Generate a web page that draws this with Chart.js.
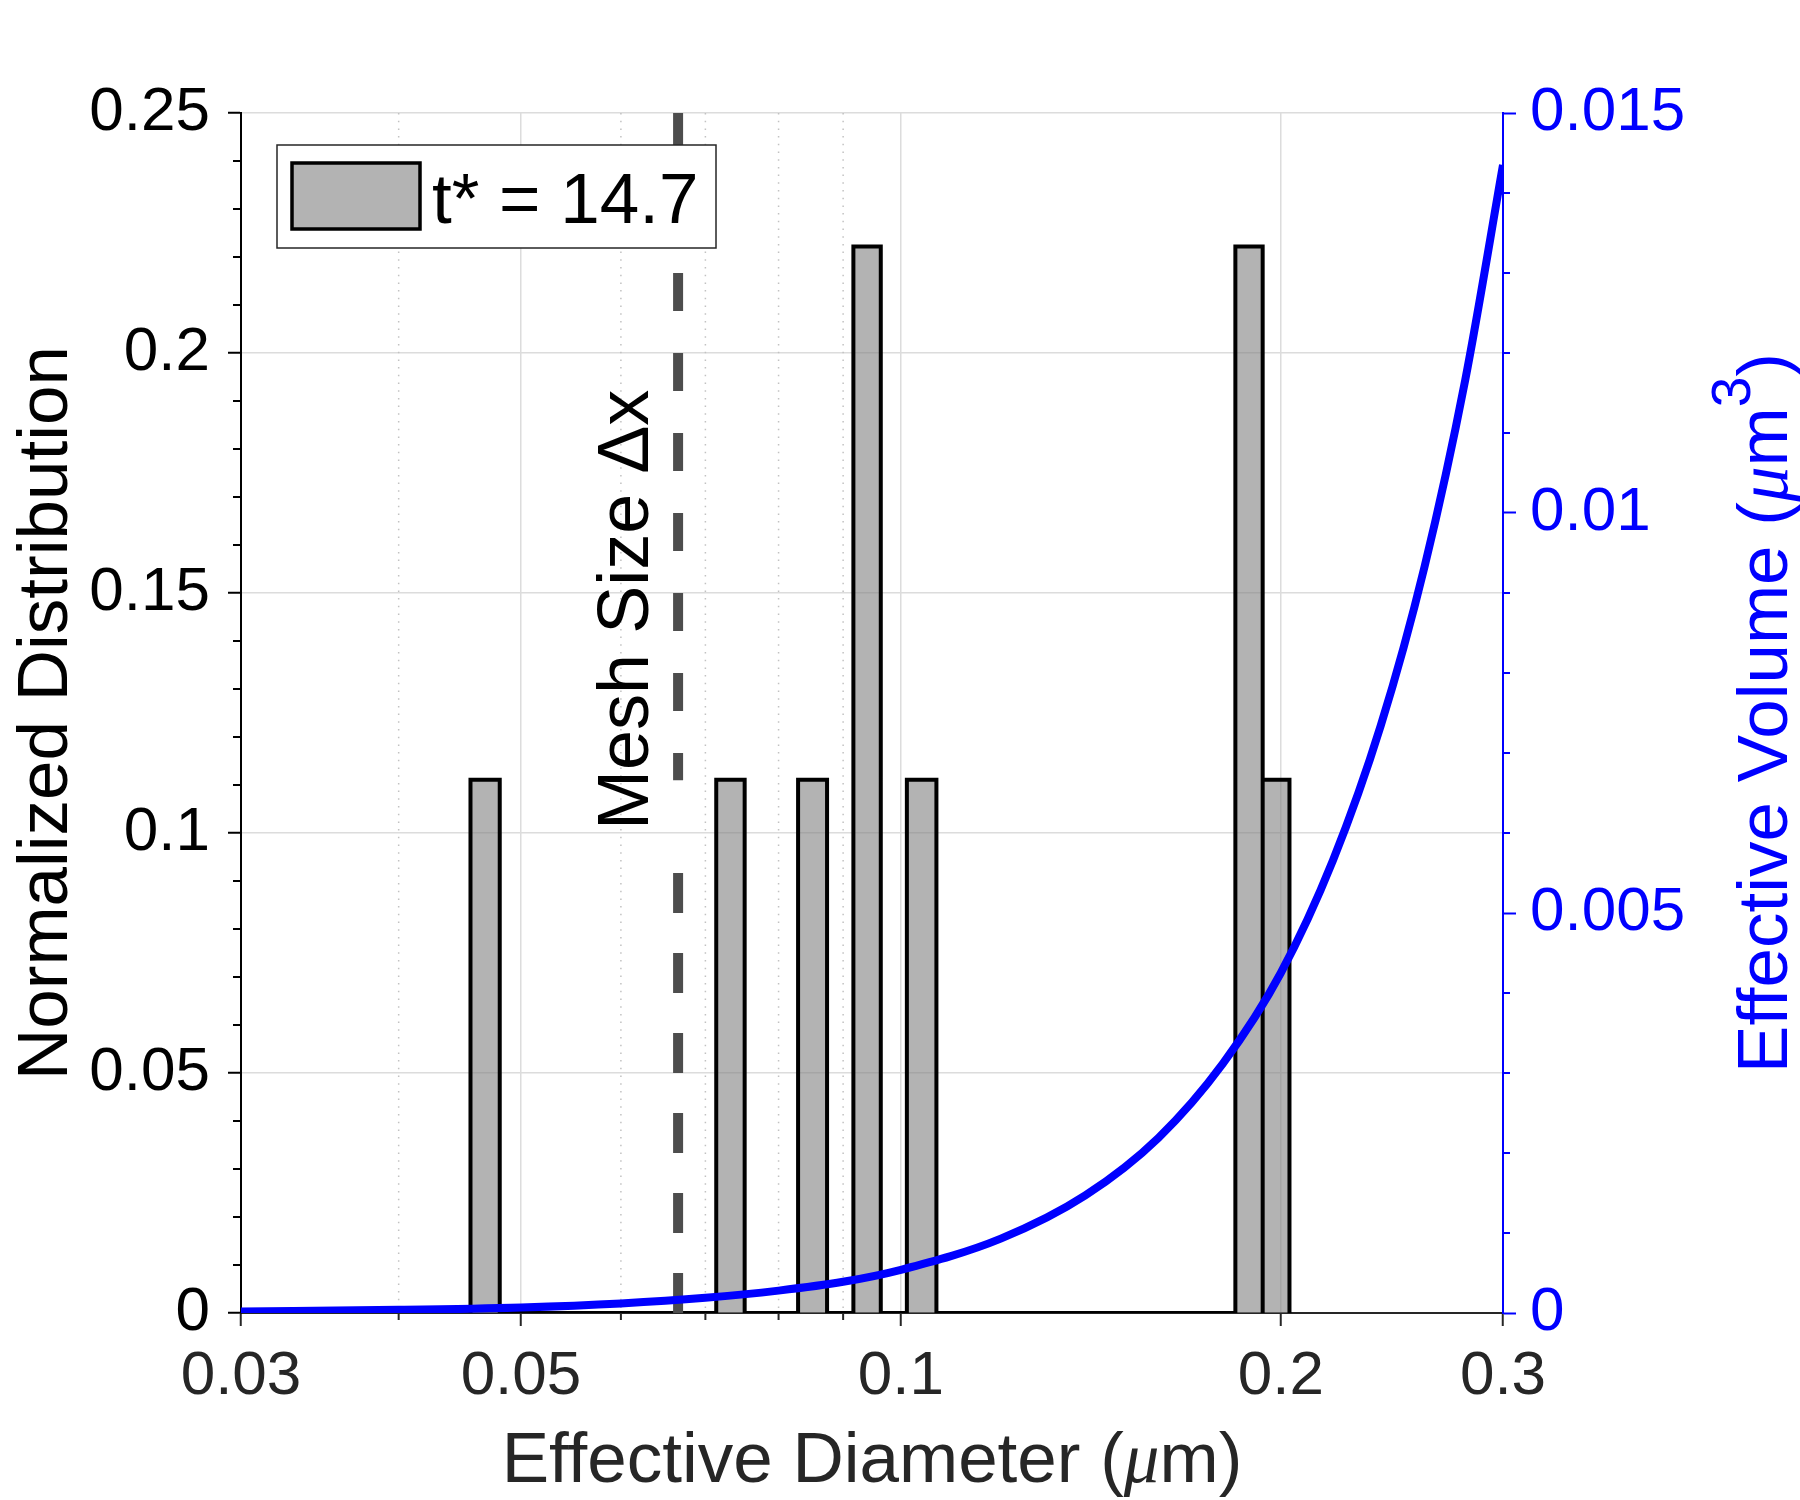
<!DOCTYPE html>
<html>
<head>
<meta charset="utf-8">
<script src="https://cdn.jsdelivr.net/npm/chart.js@4.4.1/dist/chart.umd.min.js"></script>
<style>
	html, body { margin: 0; padding: 0; background: #fff; }
	canvas { display: block; }
</style>
</head>
<body>
<canvas id="chart" width="1800" height="1500" style="width:1800px;height:1500px"></canvas>
<script>
// histogram bins (effective diameter, um) and normalized counts
const binLeft = [0.0456, 0.0714, 0.0829, 0.0917, 0.1011, 0.1841, 0.1935];
const binRight = [0.0481, 0.0752, 0.0874, 0.0964, 0.1067, 0.1935, 0.2032];
const binHeight = [0.1111, 0.1111, 0.1111, 0.2222, 0.1111, 0.2222, 0.1111];

// effective volume curve (um^3)
const diameters = [0.03, 0.04, 0.05, 0.06, 0.07, 0.08, 0.09, 0.1, 0.12, 0.14, 0.16, 0.18, 0.2, 0.22, 0.24, 0.26, 0.28, 0.3];
const volumes = [0.00002, 0.00004, 0.00007, 0.00012, 0.00019, 0.00028, 0.00039, 0.00054, 0.00093, 0.00147, 0.00219, 0.00312, 0.00425, 0.00566, 0.00734, 0.00933, 0.01166, 0.01435];

// mesh size marker, drawn as two dashed pieces
const meshSize = 0.0666;
const meshLower = [0, 0.1];
const meshUpper = [0.25, 0.111];

const xTicks = [0.03, 0.05, 0.1, 0.2, 0.3];
const xTickLabels = ["0.03", "0.05", "0.1", "0.2", "0.3"];
const xMinorTicks = [0.04, 0.06, 0.07, 0.08, 0.09];
const leftTicks = [0, 0.05, 0.1, 0.15, 0.2, 0.25];
const leftTickLabels = ["0", "0.05", "0.1", "0.15", "0.2", "0.25"];
const leftMinorTicks = [0.01, 0.02, 0.03, 0.04, 0.06, 0.07, 0.08, 0.09, 0.11, 0.12, 0.13, 0.14, 0.16, 0.17, 0.18, 0.19, 0.21, 0.22, 0.23, 0.24];
const rightTicks = [0, 0.005, 0.01, 0.015];
const rightTickLabels = ["0", "0.005", "0.01", "0.015"];
const rightMinorTicks = [0.001, 0.002, 0.003, 0.004, 0.006, 0.007, 0.008, 0.009, 0.011, 0.012, 0.013, 0.014];

const legendLabel = "t* = 14.7";
const meshLabel = "Mesh Size \u0394x";

const SANS = '"Liberation Sans", Arial, sans-serif';
const SERIF = '"Liberation Serif", serif';
const BLUE = "#0000ff";
const GRID = "#dcdcdc";
const HIST_FILL = "rgba(128,128,128,0.6)";

Chart.defaults.font.family = SANS;

const histPoints = [];
binLeft.forEach((l, i) => {
	histPoints.push(
		{ x: l, y: 0 },
		{ x: l, y: binHeight[i] },
		{ x: binRight[i], y: binHeight[i] },
		{ x: binRight[i], y: 0 }
	);
});

// draws a row of text pieces with different fonts, centred on x
const drawRuns = (ctx, runs, x, y) => {
	let total = 0;
	runs.forEach(r => {
		ctx.font = r.font;
		r.w = ctx.measureText(r.text).width;
		total += r.w;
	});
	let cx = x - total / 2;
	ctx.textAlign = "left";
	ctx.textBaseline = "alphabetic";
	runs.forEach(r => {
		ctx.font = r.font;
		ctx.fillText(r.text, cx, y + (r.dy || 0));
		cx += r.w;
	});
};

const line = (ctx, x1, y1, x2, y2) => {
	ctx.beginPath();
	ctx.moveTo(x1, y1);
	ctx.lineTo(x2, y2);
	ctx.stroke();
};

const extras = {
	id: "extras",
	beforeDatasetsDraw(chart) {
		const { ctx, chartArea: a, scales: { x, y, y2 } } = chart;
		ctx.save();
		// dotted minor grid
		ctx.strokeStyle = "#c2c2c2";
		ctx.lineWidth = 1.5;
		ctx.setLineDash([1.5, 6.2]);
		xMinorTicks.forEach(v => {
			const px = x.getPixelForValue(v);
			line(ctx, px, a.top, px, a.bottom);
		});
		ctx.setLineDash([]);
		ctx.lineWidth = 2;
		// minor ticks
		ctx.strokeStyle = "#262626";
		xMinorTicks.forEach(v => {
			const px = x.getPixelForValue(v);
			line(ctx, px, a.bottom, px, a.bottom + 7);
		});
		ctx.strokeStyle = "#000";
		leftMinorTicks.forEach(v => {
			const py = y.getPixelForValue(v);
			line(ctx, a.left - 8, py, a.left, py);
		});
		ctx.strokeStyle = BLUE;
		rightMinorTicks.forEach(v => {
			const py = y2.getPixelForValue(v);
			line(ctx, a.right, py, a.right + 7, py);
		});
		ctx.restore();
	},
	afterDatasetsDraw(chart) {
		const { ctx, chartArea: a, scales: { x, y } } = chart;
		ctx.save();

		// legend
		const lx = a.left + 36, ly = a.top + 32;
		ctx.fillStyle = "#fff";
		ctx.fillRect(lx, ly, 439, 103);
		ctx.strokeStyle = "#262626";
		ctx.lineWidth = 1.5;
		ctx.strokeRect(lx, ly, 439, 103);
		ctx.fillStyle = HIST_FILL;
		ctx.fillRect(lx + 15, ly + 18, 128, 66);
		ctx.strokeStyle = "#000";
		ctx.lineWidth = 3.5;
		ctx.strokeRect(lx + 15, ly + 18, 128, 66);
		ctx.fillStyle = "#000";
		ctx.font = "71px " + SANS;
		ctx.textAlign = "left";
		ctx.textBaseline = "alphabetic";
		ctx.fillText(legendLabel, lx + 155, ly + 78);

		// mesh size label, rotated next to the dashed line
		ctx.save();
		ctx.translate(x.getPixelForValue(meshSize) - 30, y.getPixelForValue(0.1465));
		ctx.rotate(-Math.PI / 2);
		ctx.font = "72px " + SANS;
		ctx.textAlign = "center";
		ctx.fillText(meshLabel, 0, 0);
		ctx.restore();

		// x axis title
		ctx.fillStyle = "#262626";
		drawRuns(ctx, [
			{ text: "Effective Diameter (", font: "71px " + SANS },
			{ text: "\u03bc", font: "italic 71px " + SERIF },
			{ text: "m)", font: "71px " + SANS },
		], (a.left + a.right) / 2, a.bottom + 169);

		// right axis title
		ctx.save();
		ctx.fillStyle = BLUE;
		ctx.translate(a.right + 284, (a.top + a.bottom) / 2);
		ctx.rotate(-Math.PI / 2);
		drawRuns(ctx, [
			{ text: "Effective Volume (", font: "71px " + SANS },
			{ text: "\u03bc", font: "italic 71px " + SERIF },
			{ text: "m", font: "71px " + SANS },
			{ text: "3", font: "55px " + SANS, dy: -37 },
			{ text: ")", font: "71px " + SANS },
		], 0, 0);
		ctx.restore();

		ctx.restore();
	},
};

const config = {
	type: "line",
	plugins: [extras],
	data: {
		datasets: [
			{
				label: "Effective volume",
				data: diameters.map((d, i) => ({ x: d, y: volumes[i] })),
				yAxisID: "y2",
				borderColor: BLUE,
				borderWidth: 8,
				pointRadius: 0,
				cubicInterpolationMode: "monotone",
				fill: false,
				order: 0,
			},
			{
				label: "Mesh lower",
				data: meshLower.map(v => ({ x: meshSize, y: v })),
				yAxisID: "y",
				borderColor: "#4d4d4d",
				borderWidth: 10,
				borderDash: [40, 40],
				borderCapStyle: "butt",
				pointRadius: 0,
				fill: false,
				order: 1,
			},
			{
				label: "Mesh upper",
				data: meshUpper.map(v => ({ x: meshSize, y: v })),
				yAxisID: "y",
				borderColor: "#4d4d4d",
				borderWidth: 10,
				borderDash: [38, 42],
				borderCapStyle: "butt",
				pointRadius: 0,
				fill: false,
				order: 1,
			},
			{
				label: legendLabel,
				data: histPoints,
				yAxisID: "y",
				borderColor: "#000",
				borderWidth: 4,
				borderJoinStyle: "miter",
				backgroundColor: HIST_FILL,
				fill: "origin",
				pointRadius: 0,
				tension: 0,
				order: 2,
			},
		],
	},
	options: {
		responsive: false,
		animation: false,
		devicePixelRatio: 1,
		events: [],
		layout: { padding: { top: 113, left: 0, right: 0, bottom: 0 } },
		plugins: {
			legend: { display: false },
			tooltip: { enabled: false },
		},
		scales: {
			x: {
				type: "logarithmic",
				position: "bottom",
				min: 0.03,
				max: 0.3,
				afterBuildTicks: s => {
					s.ticks = xTicks.map(v => ({ value: v }));
				},
				afterFit: s => {
					s.height = 187;
					s.paddingLeft = 0;
					s.paddingRight = 0;
				},
				ticks: {
					callback: (v, i) => xTickLabels[i],
					color: "#262626",
					font: { size: 62, lineHeight: 1 },
					padding: 20,
					maxRotation: 0,
					autoSkip: false,
				},
				grid: {
					color: c => (c.index === 0 || c.index === xTicks.length - 1 ? "rgba(0,0,0,0)" : GRID),
					lineWidth: 1.5,
					tickLength: 13,
					tickWidth: 2,
					tickColor: "#262626",
				},
				border: { color: "#262626", width: 2 },
			},
			y: {
				type: "linear",
				position: "left",
				min: 0,
				max: 0.25,
				afterBuildTicks: s => {
					s.ticks = leftTicks.map(v => ({ value: v }));
				},
				afterFit: s => {
					s.width = 241;
					s.paddingTop = 0;
					s.paddingBottom = 0;
				},
				ticks: {
					callback: (v, i) => leftTickLabels[i],
					color: "#000",
					font: { size: 62 },
					padding: 18,
					autoSkip: false,
				},
				title: {
					display: true,
					text: "Normalized Distribution",
					color: "#000",
					font: { size: 71, lineHeight: 1 },
					padding: { top: 12, bottom: 0 },
				},
				grid: {
					color: c => (c.index === 0 ? "rgba(0,0,0,0)" : GRID),
					lineWidth: 1.5,
					tickLength: 13,
					tickWidth: 2,
					tickColor: "#000",
				},
				border: { color: "#000", width: 2 },
			},
			y2: {
				type: "linear",
				position: "right",
				min: 0,
				max: 0.015,
				afterBuildTicks: s => {
					s.ticks = rightTicks.map(v => ({ value: v }));
				},
				afterFit: s => {
					s.width = 297;
					s.paddingTop = 0;
					s.paddingBottom = 0;
				},
				ticks: {
					callback: (v, i) => rightTickLabels[i],
					color: BLUE,
					font: { size: 62 },
					padding: 14,
					autoSkip: false,
				},
				grid: {
					drawOnChartArea: false,
					tickLength: 13,
					tickWidth: 2,
					tickColor: BLUE,
				},
				border: { color: BLUE, width: 2 },
			},
		},
	},
};

new Chart(document.getElementById("chart"), config);
</script>
</body>
</html>
